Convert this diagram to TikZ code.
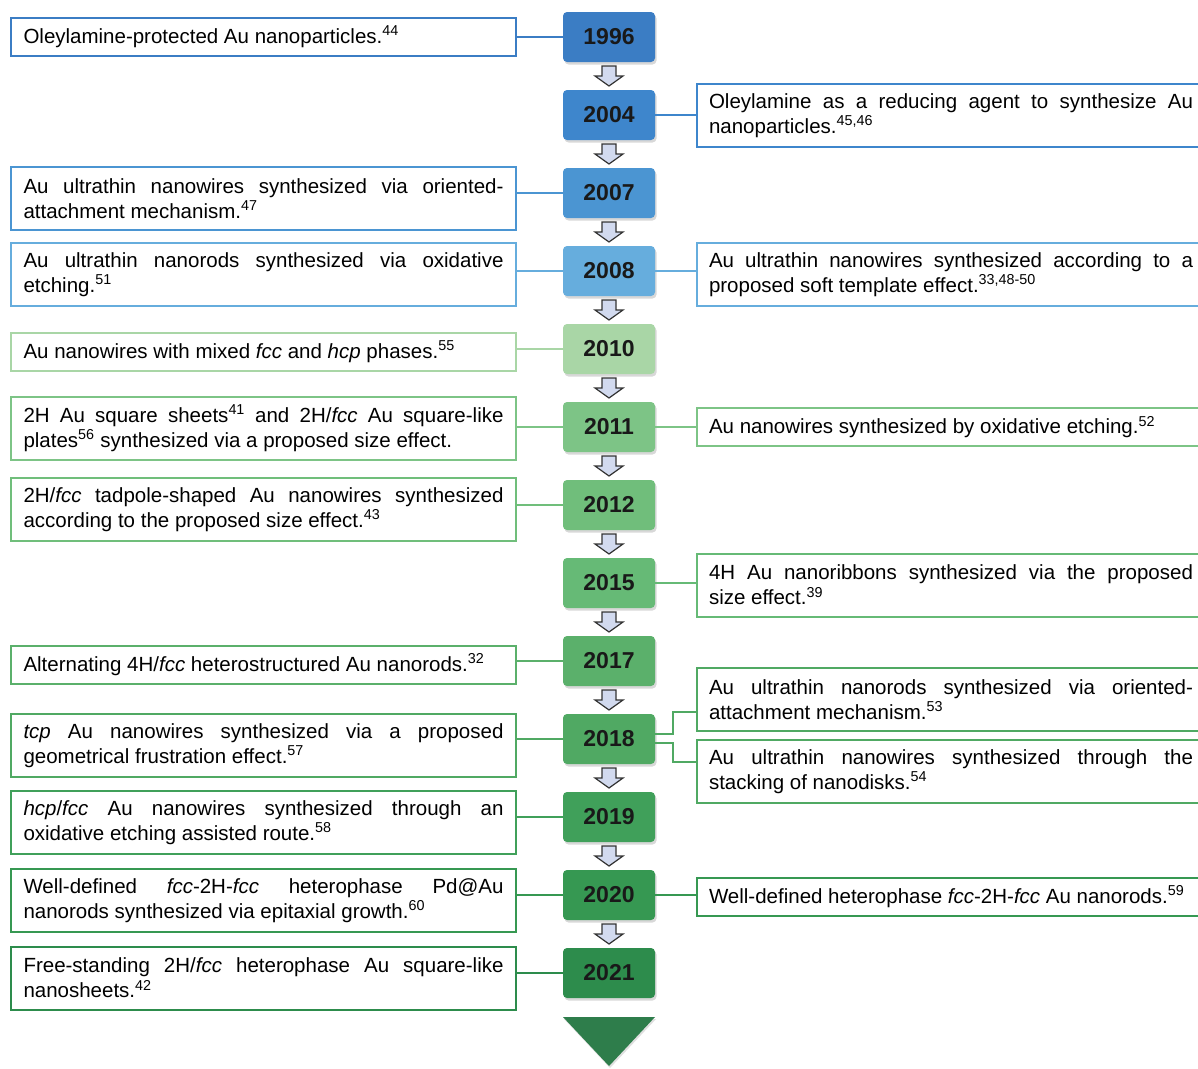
\documentclass[tikz,border=0pt]{standalone}
\usepackage{fontspec}
\setmainfont{Liberation Sans}
\usepackage{tikz}
\usetikzlibrary{shadows,calc}

\definecolor{c96}{HTML}{3B7DC4}
\definecolor{c04}{HTML}{3E86CC}
\definecolor{c07}{HTML}{4B95D2}
\definecolor{c08}{HTML}{66ADDD}
\definecolor{c10}{HTML}{A9D6A6}
\definecolor{c11}{HTML}{7DC486}
\definecolor{c12}{HTML}{70BE7B}
\definecolor{c15}{HTML}{66BA76}
\definecolor{c17}{HTML}{5BB06B}
\definecolor{c18}{HTML}{50A963}
\definecolor{c19}{HTML}{40A05A}
\definecolor{c20}{HTML}{369852}
\definecolor{c21}{HTML}{2D8C4C}
\definecolor{ctri}{HTML}{2E7D4B}
\definecolor{carrow}{HTML}{D2DAEF}

\hyphenpenalty=10000
\exhyphenpenalty=10000

\begin{document}
\begin{tikzpicture}[x=1pt, y=-1pt, outer sep=0pt]

\tikzstyle{year}=[rectangle, rounded corners=4pt, minimum width=92pt, minimum height=50pt, text=black!90, font=\fontsize{23}{27}\selectfont\bfseries, drop shadow={shadow xshift=1.5pt, shadow yshift=-2.5pt, opacity=0.3}]
\tikzstyle{event}=[draw, line width=2pt, fill=white, inner ysep=0pt, align=justify, font=\fontsize{20.5}{25}\selectfont]
\tikzstyle{leftbox}=[event, text width=480pt, inner xsep=12.5pt]
\tikzstyle{rightbox}=[event, text width=484pt, inner xsep=12pt]
\tikzstyle{oneline}=[minimum height=38pt]
\tikzstyle{twoline}=[minimum height=63pt]
\tikzstyle{link}=[line width=2pt]
\tikzstyle{yeararrow}=[draw=black!80, line width=1.2pt, fill=carrow, line join=miter]

\fill[white] (0,0) rectangle (1198,1068);
\useasboundingbox (0,0) rectangle (1198,1068);

\node[year, fill=c96] (y96) at (609,37) {1996}; \node[year, fill=c04] (y04) at (609,115) {2004}; \node[year, fill=c07] (y07) at (609,193) {2007};
\node[year, fill=c08] (y08) at (609,271) {2008}; \node[year, fill=c10] (y10) at (609,349) {2010}; \node[year, fill=c11] (y11) at (609,427) {2011};
\node[year, fill=c12] (y12) at (609,505) {2012}; \node[year, fill=c15] (y15) at (609,583) {2015}; \node[year, fill=c17] (y17) at (609,661) {2017};
\node[year, fill=c18] (y18) at (609,739) {2018}; \node[year, fill=c19] (y19) at (609,817) {2019}; \node[year, fill=c20] (y20) at (609,895) {2020};
\node[year, fill=c21] (y21) at (609,973) {2021};

\fill[ctri, drop shadow={shadow xshift=1pt, shadow yshift=-2pt, opacity=0.25}] ($(y21.south west)+(0,19)$) -- ($(y21.south east)+(0,19)$) -- ($(y21.south)+(0,68)$) -- cycle;

\foreach \a/\b in {y96/y04, y04/y07, y07/y08, y08/y10, y10/y11, y11/y12, y12/y15, y15/y17, y17/y18, y18/y19, y19/y20, y20/y21}
  \draw[yeararrow] ($(\a.south)!0.5!(\b.north)$) ++(-7,-10) -- ++(14,0) -- ++(0,10) -- ++(7,0) -- ++(-14,10) -- ++(-14,-10) -- ++(7,0) -- cycle;

\node[leftbox, oneline, draw=c96] (l96) at (263.5,36.5) {Oleylamine-protected Au nanoparticles.\textsuperscript{44}};
\node[rightbox, twoline, draw=c04] (r04) at (951,115.5) {Oleylamine as a reducing agent to synthesize Au\linebreak nanoparticles.\textsuperscript{45,46}};
\node[leftbox, twoline, draw=c07] (l07) at (263.5,198.5) {Au ultrathin nanowires synthesized via oriented-\linebreak attachment mechanism.\textsuperscript{47}};
\node[leftbox, twoline, draw=c08] (l08) at (263.5,274.5) {Au ultrathin nanorods synthesized via oxidative\linebreak etching.\textsuperscript{51}};
\node[rightbox, twoline, draw=c08] (r08) at (951,274.5) {Au ultrathin nanowires synthesized according to a\linebreak proposed soft template effect.\textsuperscript{33,48-50}};
\node[leftbox, oneline, draw=c10] (l10) at (263.5,351.5) {Au nanowires with mixed \textit{fcc} and \textit{hcp} phases.\textsuperscript{55}};
\node[leftbox, twoline, draw=c11] (l11) at (263.5,428) {2H Au square sheets\textsuperscript{41} and 2H/\textit{fcc} Au square-like\linebreak plates\textsuperscript{56} synthesized via a proposed size effect.};
\node[rightbox, oneline, draw=c11] (r11) at (951,427) {Au nanowires synthesized by oxidative etching.\textsuperscript{52}};
\node[leftbox, twoline, draw=c12] (l12) at (263.5,509.5) {2H/\textit{fcc} tadpole-shaped Au nanowires synthesized\linebreak according to the proposed size effect.\textsuperscript{43}};
\node[rightbox, twoline, draw=c15] (r15) at (951,585) {4H Au nanoribbons synthesized via the proposed\linebreak size effect.\textsuperscript{39}};
\node[leftbox, oneline, draw=c17] (l17) at (263.5,664.5) {Alternating 4H/\textit{fcc} heterostructured Au nanorods.\textsuperscript{32}};
\node[leftbox, twoline, draw=c18] (l18) at (263.5,745.5) {\textit{tcp} Au nanowires synthesized via a proposed\linebreak geometrical frustration effect.\textsuperscript{57}};
\node[rightbox, twoline, draw=c18] (r18a) at (951,699.5) {Au ultrathin nanorods synthesized via oriented-\linebreak attachment mechanism.\textsuperscript{53}};
\node[rightbox, twoline, draw=c18] (r18b) at (951,771.5) {Au ultrathin nanowires synthesized through the\linebreak stacking of nanodisks.\textsuperscript{54}};
\node[leftbox, twoline, draw=c19] (l19) at (263.5,822.5) {\textit{hcp}/\textit{fcc} Au nanowires synthesized through an\linebreak oxidative etching assisted route.\textsuperscript{58}};
\node[leftbox, twoline, draw=c20] (l20) at (263.5,900.5) {Well-defined \textit{fcc}-2H-\textit{fcc} heterophase Pd@Au\linebreak nanorods synthesized via epitaxial growth.\textsuperscript{60}};
\node[rightbox, oneline, draw=c20] (r20) at (951,896.5) {Well-defined heterophase \textit{fcc}-2H-\textit{fcc} Au nanorods.\textsuperscript{59}};
\node[leftbox, twoline, draw=c21] (l21) at (263.5,978) {Free-standing 2H/\textit{fcc} heterophase Au square-like\linebreak nanosheets.\textsuperscript{42}};

\draw[link, c96] (y96.west) -- (y96.west -| l96.east);
\draw[link, c04] (y04.east) -- (y04.east -| r04.west);
\draw[link, c07] (y07.west) -- (y07.west -| l07.east);
\draw[link, c08] (y08.west) -- (y08.west -| l08.east); \draw[link, c08] (y08.east) -- (y08.east -| r08.west);
\draw[link, c10] (y10.west) -- (y10.west -| l10.east);
\draw[link, c11] (y11.west) -- (y11.west -| l11.east); \draw[link, c11] (y11.east) -- (y11.east -| r11.west);
\draw[link, c12] (y12.west) -- (y12.west -| l12.east);
\draw[link, c15] (y15.east) -- (y15.east -| r15.west);
\draw[link, c17] (y17.west) -- (y17.west -| l17.east);
\draw[link, c18] (y18.west) -- (y18.west -| l18.east);
\draw[link, c18] ([yshift=5pt]y18.east) -- ++(18,0) |- ([yshift=-12.5pt]r18a.west);
\draw[link, c18] ([yshift=-4pt]y18.east) -- ++(18,0) |- ([yshift=9.5pt]r18b.west);
\draw[link, c19] (y19.west) -- (y19.west -| l19.east);
\draw[link, c20] (y20.west) -- (y20.west -| l20.east); \draw[link, c20] (y20.east) -- (y20.east -| r20.west);
\draw[link, c21] (y21.west) -- (y21.west -| l21.east);

\end{tikzpicture}
\end{document}
